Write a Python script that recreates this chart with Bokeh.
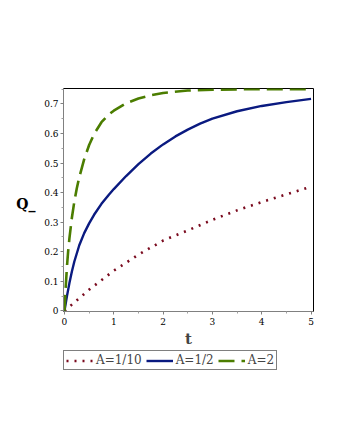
from bokeh.plotting import figure
from bokeh.models import Range1d, Legend, LegendItem, FixedTicker, LinearAxis
from bokeh.layouts import column
from bokeh.embed import file_html
from bokeh.resources import INLINE

# Data
t_red = [0, 0.5, 1.0, 1.5, 2.0, 2.5, 3.0, 3.5, 4.0, 4.5, 5.0]
q_red = [0, 0.072, 0.136, 0.19, 0.238, 0.272, 0.308, 0.34, 0.368, 0.394, 0.42]

t_blue = [0, 0.05, 0.1, 0.15, 0.2, 0.3, 0.4, 0.5, 0.6, 0.75, 0.9, 1.0, 1.25, 1.5, 1.75,
          2.0, 2.25, 2.5, 2.75, 3.0, 3.5, 4.0, 4.5, 5.0]
q_blue = [0, 0.05, 0.094, 0.133, 0.167, 0.222, 0.263, 0.296, 0.325, 0.362, 0.393, 0.412, 0.456, 0.496, 0.532,
          0.563, 0.59, 0.613, 0.633, 0.65, 0.675, 0.693, 0.706, 0.717]

t_green = [0, 0.025, 0.05, 0.075, 0.1, 0.15, 0.2, 0.25, 0.3, 0.4, 0.5, 0.6, 0.75, 0.9, 1.0,
           1.25, 1.5, 1.75, 2.0, 2.5, 3.0, 3.5, 4.0, 5.0]
q_green = [0, 0.08, 0.15, 0.203, 0.245, 0.315, 0.37, 0.415, 0.452, 0.513, 0.561, 0.598, 0.638, 0.664, 0.677,
           0.702, 0.718, 0.729, 0.737, 0.745, 0.748, 0.749, 0.75, 0.75]

series_names = ["A=1/10", "A=1/2", "A=2"]
x_ticks = [0, 1, 2, 3, 4, 5]
x_tick_labels = ["0", "1", "2", "3", "4", "5"]
y_ticks = [0, 0.1, 0.2, 0.3, 0.4, 0.5, 0.6, 0.7]
y_tick_labels = ["0", "0.1", "0.2", "0.3", "0.4", "0.5", "0.6", "0.7"]
x_label = "t"
y_label = "Q_"
y_label_pos = 0.3625

RED = "#7a0a1e"
BLUE = "#0a1a80"
GREEN = "#4b7d00"
SERIF = "DejaVu Serif"
styles = [dict(line_color=RED, line_width=2.6, line_dash="2 6"),
          dict(line_color=BLUE, line_width=2.4),
          dict(line_color=GREEN, line_width=2.6, line_dash="16 7")]
series = [(t_red, q_red), (t_blue, q_blue), (t_green, q_green)]

p = figure(width=334, height=350, output_backend="svg", toolbar_location=None,
           x_range=Range1d(-0.02, 5.05), y_range=Range1d(-0.002, 0.752),
           min_border_left=63, min_border_right=21, min_border_top=88, min_border_bottom=36)
p.background_fill_color = "white"
p.border_fill_color = "white"
p.outline_line_color = "black"
p.outline_line_width = 1
p.grid.visible = False

for (tx, qy), st in zip(series, styles):
    p.line(tx, qy, **st)

for ax, ticks, labels in ((p.xaxis[0], x_ticks, x_tick_labels), (p.yaxis[0], y_ticks, y_tick_labels)):
    ax.ticker = FixedTicker(ticks=ticks, minor_ticks=[v + (ticks[1] - ticks[0]) / 2 for v in ticks])
    ax.major_label_overrides = {v: s for v, s in zip(ticks, labels)}
    ax.major_label_text_font = SERIF
    ax.major_label_text_font_size = "9px"
    ax.major_label_text_color = "black"
    ax.axis_line_color = "#808080"
    ax.major_tick_line_color = "#808080"
    ax.minor_tick_line_color = "#a0a0a0"
    ax.major_tick_out = 3
    ax.major_tick_in = 0
    ax.minor_tick_out = 2
    ax.minor_tick_in = 0
p.yaxis[0].major_label_standoff = 2
p.xaxis[0].major_label_standoff = 3

p.xaxis[0].axis_label = x_label
p.xaxis[0].axis_label_text_font = SERIF
p.xaxis[0].axis_label_text_font_size = "15px"
p.xaxis[0].axis_label_text_font_style = "bold"
p.xaxis[0].axis_label_standoff = 2

# horizontal y-axis title via an extra axis carrying a single label
qa = LinearAxis(ticker=FixedTicker(ticks=[y_label_pos], minor_ticks=[]),
                major_label_overrides={y_label_pos: y_label},
                major_label_text_font=SERIF, major_label_text_font_size="14px",
                major_label_text_font_style="bold", major_label_text_color="black",
                axis_line_color=None, major_tick_line_color=None, minor_tick_line_color=None,
                major_label_standoff=0)
p.add_layout(qa, "left")

# legend strip below the plot (series drawn out of view, only their legend entries show)
lg = figure(width=334, height=30, output_backend="svg", toolbar_location=None,
            x_range=Range1d(100, 101), y_range=Range1d(100, 101),
            min_border_left=0, min_border_right=0, min_border_top=0, min_border_bottom=0)
lg.axis.visible = False
lg.grid.visible = False
lg.outline_line_color = None
lg.background_fill_color = "white"
lg.border_fill_color = "white"
items = []
for name, (tx, qy), st in zip(series_names, series, styles):
    r = lg.line(tx, qy, **st)
    items.append(LegendItem(label=name, renderers=[r]))
legend = Legend(items=items, orientation="horizontal", location=(0, 10),
                label_text_font=SERIF, label_text_font_size="12px",
                glyph_width=27, glyph_height=13, label_height=13, label_standoff=3,
                spacing=4, padding=2, margin=0,
                border_line_color="black", border_line_width=1,
                background_fill_alpha=1.0)
lg.add_layout(legend, "center")

open("out.html", "w").write(file_html(column(p, lg, spacing=0), INLINE))
